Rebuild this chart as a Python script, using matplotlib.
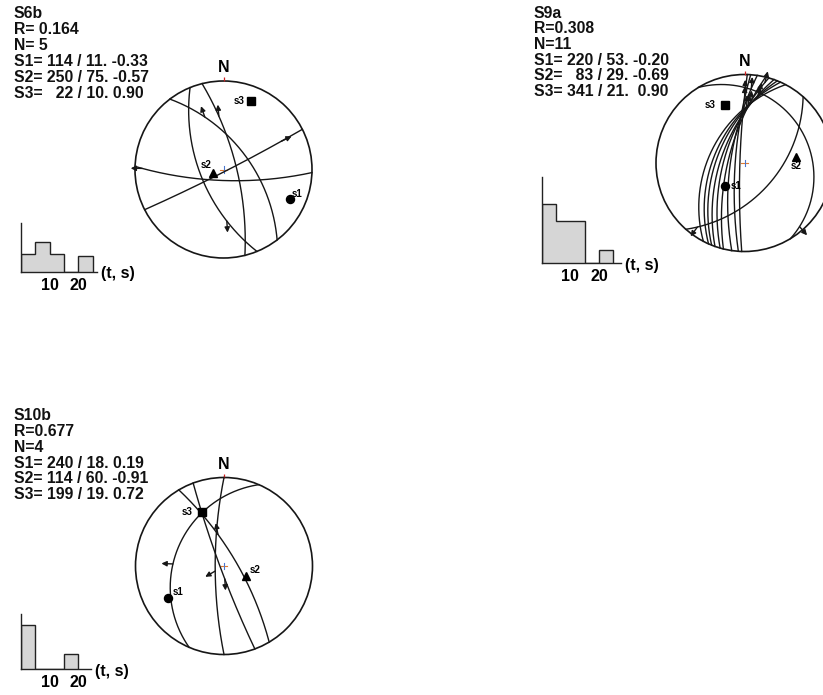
import numpy as np
import matplotlib
matplotlib.use("Agg")
import matplotlib.pyplot as plt
from matplotlib.patches import Circle

plt.rcParams['font.family'] = ['Liberation Sans', 'DejaVu Sans']
plt.rcParams['font.weight'] = 'bold'

# ---------------- site S6b ----------------
s6b_info = ["S6b", "R= 0.164", "N= 5",
            "S1= 114 / 11. -0.33", "S2= 250 / 75. -0.57", "S3=   22 / 10. 0.90"]
s6b_dipdir = [182, 153, 247.8, 52.7, 76]
s6b_dip = [75.8, 87, 60.6, 57.6, 73.3]
s6b_pitch = [175, 18, 34.3, 30.8, 28.9]
s6b_sense = [1, 1, 1, 1, 1]
s6b_axis_trend = [114, 250, 22]
s6b_axis_plunge = [11, 75, 10]
s6b_hist = [18, 30, 18, 0, 16]
s6b_hist_top = 49

# ---------------- site S9a ----------------
s9a_info = ["S9a", "R=0.308", "N=11",
            "S1= 220 / 53. -0.20", "S2=   83 / 29. -0.69", "S3= 341 / 21.  0.90"]
s9a_dipdir = [297.7, 294, 291.8, 289.5, 286, 283.8, 278.3, 274, 271.8, 131.5, 58.7]
s9a_dip = [47, 51.9, 55.5, 60.2, 63.9, 69, 72, 78, 84, 50, 17]
s9a_pitch = [145, 160, 150, 165, 176, 158, 170, 162, 168, 172, 170]
s9a_sense = [1, 1, 1, 1, 1, 1, 1, 1, 1, 1, 1]
s9a_axis_trend = [220, 83, 341]
s9a_axis_plunge = [53, 29, 21]
s9a_hist = [59, 42, 42, 0, 13]
s9a_hist_top = 86

# ---------------- site S10b ----------------
s10b_info = ["S10b", "R=0.677", "N=4",
             "S1= 240 / 18. 0.19", "S2= 114 / 60. -0.91", "S3= 199 / 19. 0.72"]
s10b_dipdir = [59.3, 249.6, 270, 293.2]
s10b_dip = [74.1, 85, 78.6, 31.7]
s10b_pitch = [52.8, 74, 83.5, 72]
s10b_sense = [1, 1, 1, 1]
s10b_axis_trend = [240, 114, 338]
s10b_axis_plunge = [18, 60, 23]
s10b_hist = [44, 0, 0, 15]
s10b_hist_top = 55

axis_labels = ["s1", "s2", "s3"]
axis_markers = ["o", "^", "s"]
hist_ticks = [10, 20]
bin_width = 5

W, H = 823, 695
fig = plt.figure(figsize=(W / 100, H / 100), dpi=100)
INK = '#161616'


def px_rect(x0, y0, w, h):
    return [x0 / W, 1 - (y0 + h) / H, w / W, h / H]


def to_xy(v):
    """Lower-hemisphere equal-angle (Wulff) projection of unit vectors (E, N, Down)."""
    v = np.atleast_2d(np.asarray(v, float))
    v = np.where(v[:, 2:3] < 0, -v, v)
    return v[:, 0] / (1 + v[:, 2]), v[:, 1] / (1 + v[:, 2])


def plane_basis(dipdir, dip):
    st, dd, dp = np.radians(dipdir - 90), np.radians(dipdir), np.radians(dip)
    s = np.array([np.sin(st), np.cos(st), 0.0])
    d = np.array([np.cos(dp) * np.sin(dd), np.cos(dp) * np.cos(dd), np.sin(dp)])
    return s, d


def line_vec(trend, plunge):
    t, p = np.radians(trend), np.radians(plunge)
    return np.array([np.cos(p) * np.sin(t), np.cos(p) * np.cos(t), np.sin(p)])


def draw_net(cx, cy, r, dipdirs, dips, pitches, senses, trends, plunges, lab_off):
    lim = 1.22
    half = r * lim
    ax = fig.add_axes(px_rect(cx - half, cy - half, 2 * half, 2 * half))
    ax.set_xlim(-lim, lim)
    ax.set_ylim(-lim, lim)
    ax.set_aspect('equal')
    ax.axis('off')
    ax.add_patch(Circle((0, 0), 1, fill=False, lw=1.2, ec=INK))
    # north tick and label
    ax.plot([0, 0], [1.0, 1.04], color='#d02020', lw=0.9, solid_capstyle='butt')
    ax.text(0, 1.15, "N", ha='center', va='center', fontsize=11.5, fontweight='bold')
    # centre cross
    ax.plot([-0.035, 0.035], [0, 0], color='#e07a30', lw=0.8)
    ax.plot([0, 0], [-0.035, 0.035], color='#4a78d0', lw=0.8)
    lam = np.radians(np.linspace(0, 180, 241))
    for dd, dp, pt, sg in zip(dipdirs, dips, pitches, senses):
        s, d = plane_basis(dd, dp)
        v = np.outer(np.cos(lam), s) + np.outer(np.sin(lam), d)
        x, y = to_xy(v)
        ax.plot(x, y, color=INK, lw=1.0)
        a = np.radians(pt)
        sv = np.cos(a) * s + np.sin(a) * d
        px, py = to_xy(sv)
        hx, hy = sv[0], sv[1]
        hn = np.hypot(hx, hy)
        ux, uy = sg * hx / hn, sg * hy / hn
        L = 0.13
        ax.annotate('', xy=(px[0] + ux * L, py[0] + uy * L), xytext=(px[0], py[0]),
                    arrowprops=dict(arrowstyle='-|>', color=INK, lw=1.0,
                                    mutation_scale=7.5, shrinkA=0, shrinkB=0),
                    annotation_clip=False)
    for tr, pl, mk, lb, off in zip(trends, plunges, axis_markers, axis_labels, lab_off):
        x, y = to_xy(line_vec(tr, pl))
        ax.plot(x, y, marker=mk, ms=5.8, color='black', mec='black', ls='none', zorder=5)
        ax.annotate(lb, xy=(x[0], y[0]), xytext=(off[0] * 0.72, -off[1] * 0.72),
                    textcoords='offset points', ha='center', va='center',
                    fontsize=7, fontweight='bold')
    return ax


def draw_info(x, y0, lines, step=16):
    for i, t in enumerate(lines):
        fig.text(x / W, 1 - (y0 + i * step) / H, t, ha='left', va='center',
                 fontsize=11.3, fontweight='bold', color='#111111')


def draw_hist(x_left, baseline, top, xmax, values, ymax):
    px_per_unit = 2.87
    ax = fig.add_axes(px_rect(x_left, top, xmax * px_per_unit, baseline - top))
    edges = np.arange(len(values) + 1) * bin_width
    ax.stairs(values, edges, fill=True, facecolor='#d6d6d6', edgecolor='#222222',
              lw=1.0, baseline=0)
    ax.set_xlim(0, xmax)
    ax.set_ylim(0, ymax)
    for side in ('top', 'right'):
        ax.spines[side].set_visible(False)
    for side in ('left', 'bottom'):
        ax.spines[side].set_linewidth(1.0)
        ax.spines[side].set_color('#222222')
    ax.set_yticks([])
    ax.set_xticks(hist_ticks)
    ax.set_xticklabels([str(t) for t in hist_ticks], fontsize=11.5, fontweight='bold')
    ax.tick_params(axis='x', length=0, pad=4.5)
    ax.patch.set_alpha(0)
    ax.annotate('(t, s)', xy=(1, 0), xycoords='axes fraction', xytext=(3, -1.5),
                textcoords='offset points', ha='left', va='center',
                fontsize=11.5, fontweight='bold')
    return ax


# S6b
draw_info(14, 13.5, s6b_info)
draw_net(223.5, 169.5, 88.5, s6b_dipdir, s6b_dip, s6b_pitch, s6b_sense,
         s6b_axis_trend, s6b_axis_plunge, [(7, -5), (-6, -8), (-12, 0)])
draw_hist(21, 271.5, 223, 26.5, s6b_hist, s6b_hist_top)

# S9a
draw_info(534, 13, s9a_info, step=15.7)
draw_net(744.5, 163, 88.5, s9a_dipdir, s9a_dip, s9a_pitch, s9a_sense,
         s9a_axis_trend, s9a_axis_plunge, [(11, 0), (0, 9), (-15, 0)])
draw_hist(541.7, 263, 177, 27.6, s9a_hist, s9a_hist_top)

# S10b
draw_info(14, 415.3, s10b_info, step=15.9)
draw_net(224, 566, 88.5, s10b_dipdir, s10b_dip, s10b_pitch, s10b_sense,
         s10b_axis_trend, s10b_axis_plunge, [(10, -6), (9, -6), (-15, 0)])
draw_hist(21, 669, 614, 24.4, s10b_hist, s10b_hist_top)

fig.savefig("out.png", dpi=100)
